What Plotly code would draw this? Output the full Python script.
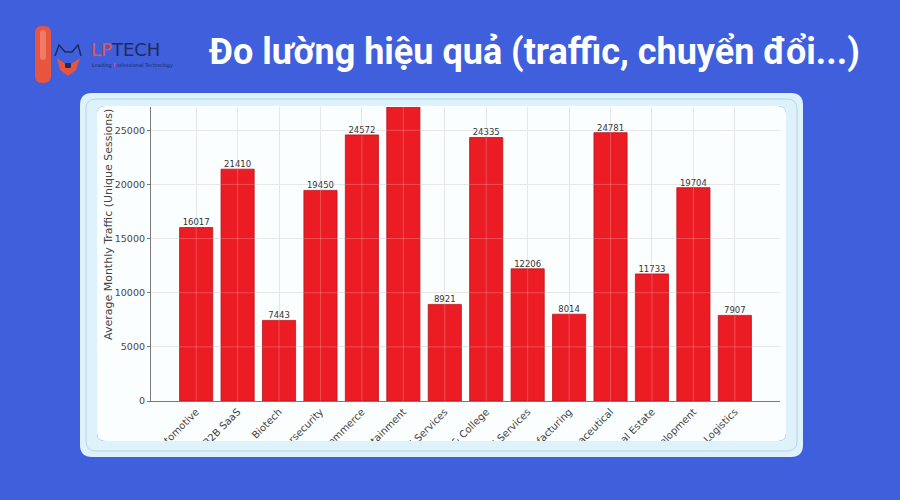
import plotly.graph_objects as go

# ---------------- data ----------------
categories = [
    "Automotive", "B2B SaaS", "Biotech", "Cybersecurity", "E-Commerce",
    "Entertainment", "Financial Services", "Higher Education & College",
    "Managed Services", "Manufacturing", "Pharmaceutical", "Real Estate",
    "Software Development", "Transportation & Logistics",
]
traffic = [16017, 21410, 7443, 19450, 24572, 31800, 8921, 24335,
           12206, 8014, 24781, 11733, 19704, 7907]
y_ticks = [0, 5000, 10000, 15000, 20000, 25000]

title_text = "Đo lường hiệu quả (traffic, chuyển đổi...)"
y_title = "Average Monthly Traffic (Unique Sessions)"

# ---------------- layout geometry (pixels) ----------------
W, H = 900, 500
PL, PR, PT, PB = 151, 780, 107, 401   # plot area in px


def px(x):
    return (x - PL) / (PR - PL)


def py(y):
    return (PB - y) / (PB - PT)


def rr(x0, y0, x1, y1, r):
    pts = [("M", x0 + r, y0), ("L", x1 - r, y0), ("Q", x1, y0, x1, y0 + r),
           ("L", x1, y1 - r), ("Q", x1, y1, x1 - r, y1), ("L", x0 + r, y1),
           ("Q", x0, y1, x0, y1 - r), ("L", x0, y0 + r), ("Q", x0, y0, x0 + r, y0)]
    s = ""
    for p in pts:
        cmd = p[0]
        coords = p[1:]
        parts = []
        for i in range(0, len(coords), 2):
            parts.append(f"{px(coords[i]):.5f},{py(coords[i+1]):.5f}")
        s += cmd + " " + " ".join(parts) + " "
    return s + "Z"


def rect(x0, y0, x1, y1):
    return (f"M {px(x0):.5f},{py(y0):.5f} L {px(x1):.5f},{py(y0):.5f} "
            f"L {px(x1):.5f},{py(y1):.5f} L {px(x0):.5f},{py(y1):.5f} Z")


BLUE = "#3f5fdd"
CARD = "#def2fb"
RED = "#ec1c24"

fig = go.Figure()
fig.add_trace(go.Bar(
    x=categories, y=traffic,
    marker=dict(color=RED, line=dict(color="#b8161c", width=0.8)),
    hoverinfo="x+y",
))
fig.add_trace(go.Scatter(
    x=categories, y=traffic, mode="text",
    text=[str(v) for v in traffic], textposition="top center",
    textfont=dict(family="DejaVu Sans", size=8.5, color="#333333"),
    cliponaxis=True, hoverinfo="skip",
))

shapes = []
# inner white chart image (below)
shapes.append(dict(type="path", xref="paper", yref="paper", layer="below",
                   path=rr(97, 106, 786, 441, 8), fillcolor="#fbfeff",
                   line=dict(width=0)))
# blue frame above (crop labels outside card)
shapes.append(dict(type="path", xref="paper", yref="paper", layer="above",
                   path=rect(-5, -5, W + 5, H + 5) + " " + rr(80, 93, 803, 457, 12),
                   fillcolor=BLUE, line=dict(width=0), fillrule="evenodd"))
# light card band above
shapes.append(dict(type="path", xref="paper", yref="paper", layer="above",
                   path=rr(80, 93, 803, 457, 12) + " " + rr(97, 106, 786, 441, 8),
                   fillcolor=CARD, line=dict(width=0), fillrule="evenodd"))
# thin inner border line
shapes.append(dict(type="path", xref="paper", yref="paper", layer="above",
                   path=rr(86, 99, 797, 451, 10), fillcolor="rgba(0,0,0,0)",
                   line=dict(color="#b9d5e3", width=1)))
# faint gridlines over bars (matplotlib draws grid above bars)
for c in categories:
    shapes.append(dict(type="line", xref="x", yref="paper", x0=c, x1=c, y0=0, y1=1,
                       layer="above", line=dict(color="rgba(255,255,255,0.22)", width=1)))
for t in y_ticks[1:]:
    shapes.append(dict(type="line", xref="paper", yref="y", x0=0, x1=1, y0=t, y1=t,
                       layer="above", line=dict(color="rgba(255,255,255,0.22)", width=1)))

# logo icon
LOGO_RED = "#e8553f"
NAVY = "#1f2b5c"
shapes.append(dict(type="path", xref="paper", yref="paper", layer="above",
                   path=rr(35, 26, 51, 83, 7), fillcolor=LOGO_RED, line=dict(width=0)))
shapes.append(dict(type="path", xref="paper", yref="paper", layer="above",
                   path=rr(40, 30, 46, 60, 3), fillcolor="#f07a66", line=dict(width=0)))
ear = [(55, 56), (59, 45), (65, 52), (72, 52), (78, 45), (81, 56)]
ear_path = "M " + " L ".join(f"{px(a):.5f},{py(b):.5f}" for a, b in ear)
shapes.append(dict(type="path", xref="paper", yref="paper", layer="above",
                   path=ear_path, line=dict(color=NAVY, width=1.5)))
face = [(57, 58), (68, 66), (80, 58), (76, 70), (68, 76), (60, 70)]
face_path = "M " + " L ".join(f"{px(a):.5f},{py(b):.5f}" for a, b in face) + " Z"
shapes.append(dict(type="path", xref="paper", yref="paper", layer="above",
                   path=face_path, fillcolor=LOGO_RED, line=dict(width=0)))
shapes.append(dict(type="path", xref="paper", yref="paper", layer="above",
                   path=rr(65, 63, 71, 68, 1), fillcolor=NAVY, line=dict(width=0)))

annotations = [
    dict(text=title_text, xref="paper", yref="paper", x=px(534), y=py(52),
         xanchor="center", yanchor="middle", showarrow=False,
         font=dict(family="Roboto", size=36, color="white", weight="bold")),
    dict(text=f'<span style="color:{LOGO_RED}">LP</span>TECH', xref="paper", yref="paper",
         x=px(89), y=py(50), xanchor="left", yanchor="middle", showarrow=False,
         font=dict(family="DejaVu Sans", size=18, color=NAVY)),
    dict(text=f'Leading <span style="color:{LOGO_RED}">P</span>rofessional Technology',
         xref="paper", yref="paper", x=px(90), y=py(65), xanchor="left", yanchor="middle",
         showarrow=False, font=dict(family="DejaVu Sans", size=5, color=NAVY)),
    dict(text=y_title, xref="paper", yref="paper", x=px(108), y=py(225),
         xanchor="center", yanchor="middle", textangle=-90, showarrow=False,
         font=dict(family="DejaVu Sans", size=11, color="#444444")),
]

fig.update_layout(
    width=W, height=H,
    margin=dict(l=PL, r=W - PR, t=PT, b=H - PB, pad=0, autoexpand=False),
    paper_bgcolor=BLUE, plot_bgcolor="white",
    showlegend=False, bargap=0.2,
    shapes=shapes, annotations=annotations,
    xaxis=dict(range=[-1.09, len(categories) - 1 + 1.09], tickangle=-45,
               automargin=False,
               showgrid=True, gridcolor="#e2e2e2", gridwidth=1,
               showline=True, linecolor="#7a7a7a", linewidth=1.2,
               ticks="", tickfont=dict(family="DejaVu Sans", size=10, color="#444444"),
               fixedrange=True),
    yaxis=dict(range=[0, 27150], tickvals=y_ticks, tickformat="d",
               automargin=False,
               showgrid=True, gridcolor="#e2e2e2", gridwidth=1,
               showline=True, linecolor="#7a7a7a", linewidth=1.2,
               zeroline=False, ticks="outside", ticklen=3, tickcolor="#7a7a7a",
               tickfont=dict(family="DejaVu Sans", size=9.5, color="#444444"),
               fixedrange=True),
)

fig.write_html(
    "out.html",
    config={"displayModeBar": False},
    post_script=("document.body.style.margin='0';"
                 "document.body.style.overflow='hidden';"
                 "document.body.style.background='" + BLUE + "';"),
)
